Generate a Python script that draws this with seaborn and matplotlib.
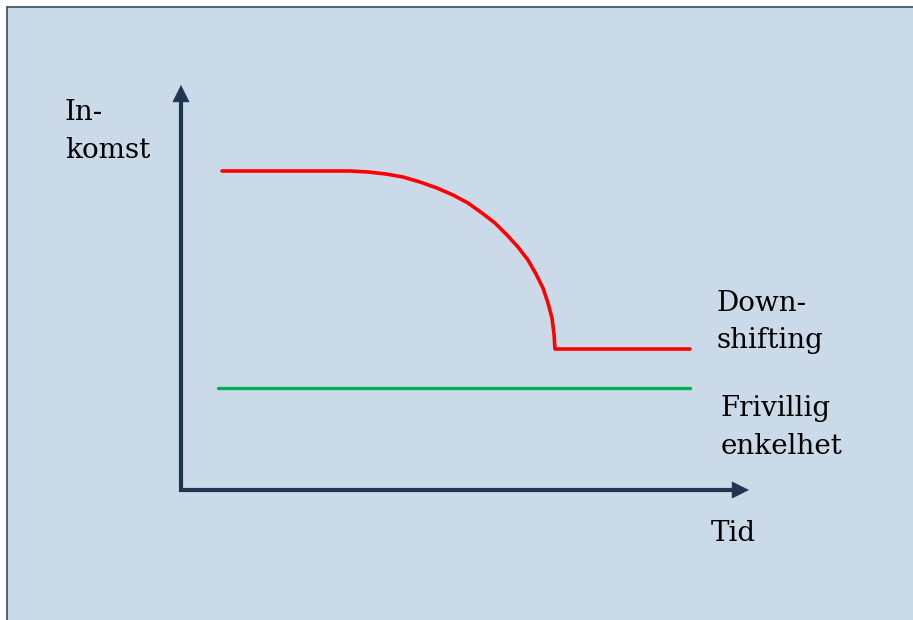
import matplotlib.pyplot as plt
import seaborn as sns
import pandas as pd
from matplotlib.patches import Rectangle
from matplotlib.lines import Line2D

# Inkomst over tid: downshifting vs frivillig enkelhet (skisserade kurvor)
tid_down = [4.1, 16.9, 18.7, 20.5, 22.2, 23.9, 25.6, 27.2, 28.7, 30.1, 31.4, 32.6, 33.7,
            34.7, 35.5, 36.2, 36.7, 37.1, 37.3, 37.4, 50.9]
inkomst_down = [31.9, 31.9, 31.8, 31.6, 31.3, 30.8, 30.2, 29.5, 28.7, 27.7, 26.7, 25.5, 24.3,
                23.0, 21.6, 20.2, 18.7, 17.2, 15.6, 14.1, 14.1]
tid_friv = [3.7, 50.9]
inkomst_friv = [10.2, 10.2]
axel_x_max = 56.8
axel_y_max = 40.5

bg = '#cadae8'
axelfarg = '#1f3550'

sns.set_style("white")
plt.rcParams['font.family'] = ['DejaVu Serif']

fig = plt.figure(figsize=(9.13, 6.2), dpi=100)
fig.patch.set_facecolor('white')

ax = fig.add_axes([0, 0, 1, 1])
ax.set_facecolor('none')
ax.set_xlim(-18.1, 73.2)
ax.set_ylim(-13.0, 49.0)

ax.add_patch(Rectangle((7 / 913, 0), 1, 1 - 7 / 620, transform=fig.transFigure,
                       facecolor=bg, edgecolor='none', zorder=0))
ax.add_line(Line2D([7 / 913, 1], [1 - 7 / 620, 1 - 7 / 620], transform=fig.transFigure,
                   color='#3b4a5c', lw=1.2, zorder=0.5))
ax.add_line(Line2D([7 / 913, 7 / 913], [0, 1 - 7 / 620], transform=fig.transFigure,
                   color='#3b4a5c', lw=1.2, zorder=0.5))

df_down = pd.DataFrame({'Tid': tid_down, 'Inkomst': inkomst_down})
df_friv = pd.DataFrame({'Tid': tid_friv, 'Inkomst': inkomst_friv})
sns.lineplot(data=df_down, x='Tid', y='Inkomst', color='#ff0000', lw=2.6, sort=False,
             estimator=None, ax=ax, zorder=3)
sns.lineplot(data=df_friv, x='Tid', y='Inkomst', color='#00b050', lw=2.4, sort=False,
             estimator=None, ax=ax, zorder=3)
ax.axis('off')

# axlar
ax.plot([0, 0, axel_x_max - 1.2], [axel_y_max - 1.2, 0, 0], color=axelfarg, lw=3,
        solid_joinstyle='miter', solid_capstyle='butt', zorder=3)
for tip, start in [((0, axel_y_max), (0, axel_y_max - 2)), ((axel_x_max, 0), (axel_x_max - 2, 0))]:
    ax.annotate('', xy=tip, xytext=start, zorder=3,
                arrowprops=dict(arrowstyle='-|>,head_length=0.4,head_width=0.2', lw=0.5,
                                color=axelfarg, mutation_scale=29, shrinkA=0, shrinkB=0,
                                joinstyle='miter'))

fs = 20
ax.text(-11.6, 39.1, 'In-\nkomst', fontsize=fs, va='top', ha='left', linespacing=1.5,
        color='black', zorder=4)
ax.text(53.5, 20.0, 'Down-\nshifting', fontsize=fs, va='top', ha='left', linespacing=1.5,
        color='black', zorder=4)
ax.text(54.0, 9.5, 'Frivillig\nenkelhet', fontsize=fs, va='top', ha='left', linespacing=1.5,
        color='black', zorder=4)
ax.text(53.0, -3.0, 'Tid', fontsize=fs, va='top', ha='left', color='black', zorder=4)

fig.savefig('out.png', dpi=100, facecolor=fig.get_facecolor())
